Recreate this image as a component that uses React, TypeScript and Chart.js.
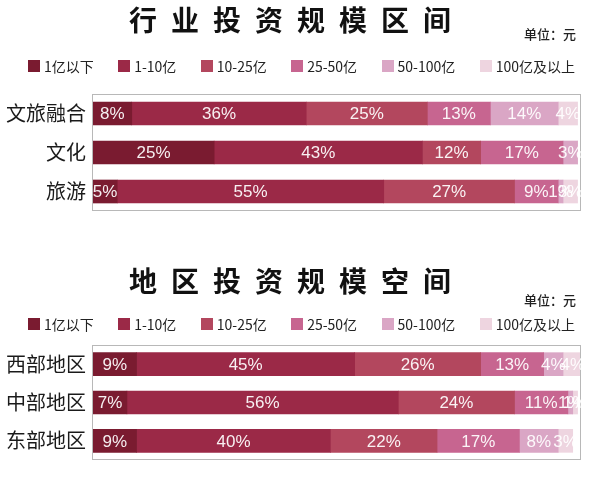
import React, { useEffect, useRef } from 'react';
import { Chart, registerables } from 'chart.js';

Chart.register(...registerables);

const seriesLabels = ['1亿以下', '1-10亿', '10-25亿', '25-50亿', '50-100亿', '100亿及以上'];
const seriesColors = ['#7a1b30', '#9b2947', '#b3475e', '#c76590', '#daa6c5', '#eed5e0'];
const unitText = '单位：元';

const industryTitle = '行业投资规模区间';
const industryCategories = ['文旅融合', '文化', '旅游'];
const industryBelow1 = [8, 25, 5];
const industry1to10 = [36, 43, 55];
const industry10to25 = [25, 12, 27];
const industry25to50 = [13, 17, 9];
const industry50to100 = [14, 3, 1];
const industryAbove100 = [4, 0, 3];

const regionTitle = '地区投资规模空间';
const regionCategories = ['西部地区', '中部地区', '东部地区'];
const regionBelow1 = [9, 7, 9];
const region1to10 = [45, 56, 40];
const region10to25 = [26, 24, 22];
const region25to50 = [13, 11, 17];
const region50to100 = [4, 1, 8];
const regionAbove100 = [4, 1, 3];

const CJK = '"Noto Sans CJK SC", "Noto Sans", sans-serif';
const NUM = '"Liberation Sans", Arial, sans-serif';

const spaced = (s: string) => s.split('').join('\u2002');

type PanelProps = {
  title: string;
  categories: string[];
  values: number[][];
  top: number;
  height: number;
  titleTop: number;
  titleBottom: number;
  padBottom: number;
  unitY: number;
  legendY: number;
};

function Panel({ title, categories, values, top, height, titleTop, titleBottom, padBottom, unitY, legendY }: PanelProps) {
  const ref = useRef<HTMLCanvasElement | null>(null);

  useEffect(() => {
    if (!ref.current) return;
    const decor = {
      id: 'decor',
      beforeDatasetsDraw(chart: any) {
        const { ctx, chartArea } = chart;
        ctx.save();
        ctx.strokeStyle = '#b8b8b8';
        ctx.lineWidth = 1;
        ctx.strokeRect(
          Math.round(chartArea.left) - 0.5,
          Math.round(chartArea.top) + 0.5,
          Math.round(chartArea.right - chartArea.left) + 1,
          Math.round(chartArea.bottom - chartArea.top) - 1
        );
        ctx.restore();
      },
      afterDatasetsDraw(chart: any) {
        const { ctx } = chart;
        ctx.save();
        ctx.font = `17px ${NUM}`;
        ctx.fillStyle = 'rgba(255,255,255,0.93)';
        ctx.textAlign = 'center';
        ctx.textBaseline = 'middle';
        chart.data.datasets.forEach((ds: any, di: number) => {
          const meta = chart.getDatasetMeta(di);
          meta.data.forEach((el: any, i: number) => {
            const v = ds.data[i];
            if (!v) return;
            const cx = (el.x + el.base) / 2;
            ctx.fillText(`${v}%`, cx, el.y + 1);
          });
        });
        ctx.restore();
      },
      afterDraw(chart: any) {
        const { ctx } = chart;
        ctx.save();
        // unit
        ctx.font = `500 13px ${CJK}`;
        ctx.fillStyle = '#222';
        ctx.textAlign = 'right';
        ctx.textBaseline = 'middle';
        ctx.fillText(unitText, chart.width - 13, unitY);
        // legend
        ctx.font = `14px ${CJK}`;
        ctx.textAlign = 'left';
        const box = 12;
        const gapText = 4;
        const items = chart.data.datasets.map((ds: any) => ({
          text: ds.label as string,
          color: ds.backgroundColor as string,
          w: box + gapText + ctx.measureText(ds.label).width,
        }));
        const sum = items.reduce((a: number, it: any) => a + it.w, 0);
        const span = 547;
        const gap = (span - sum) / (items.length - 1);
        let x = 301.5 - span / 2;
        items.forEach((it: any) => {
          ctx.fillStyle = it.color;
          ctx.fillRect(Math.round(x), Math.round(legendY - box / 2), box, box);
          ctx.fillStyle = '#222';
          ctx.fillText(it.text, x + box + gapText, legendY + 0.5);
          x += it.w + gap;
        });
        ctx.restore();
      },
    };

    const chart = new Chart(ref.current, {
      type: 'bar',
      data: {
        labels: categories,
        datasets: values.map((v, i) => ({
          label: seriesLabels[i],
          data: v,
          backgroundColor: seriesColors[i],
          borderWidth: 0,
          barThickness: 23,
        })),
      },
      options: {
        indexAxis: 'y',
        responsive: false,
        animation: false,
        layout: { padding: { left: 0, right: 9, top: 0, bottom: padBottom } },
        scales: {
          x: { stacked: true, min: 0, max: 100.5, display: false },
          y: {
            stacked: true,
            grid: { display: false, drawTicks: false },
            border: { display: false },
            ticks: { color: '#1a1a1a', font: { family: CJK, size: 20 }, padding: 7 },
            afterFit: (s: any) => {
              s.width = 93;
            },
          },
        },
        plugins: {
          title: {
            display: true,
            text: spaced(title),
            color: '#111',
            font: { family: CJK, size: 28, weight: 'bold' },
            padding: { top: titleTop, bottom: titleBottom },
          },
          legend: { display: false },
          tooltip: { enabled: false },
        },
      } as any,
      plugins: [decor],
    });
    return () => chart.destroy();
  }, []);

  return (
    <canvas
      ref={ref}
      width={589}
      height={height}
      style={{ position: 'absolute', left: 0, top, width: 589, height }}
    />
  );
}

export default function App() {
  return (
    <div style={{ position: 'fixed', left: 0, top: 0, width: 589, height: 479, background: '#fff' }}>
      <Panel
        title={industryTitle}
        categories={industryCategories}
        values={[industryBelow1, industry1to10, industry10to25, industry25to50, industry50to100, industryAbove100]}
        top={0}
        height={230}
        titleTop={4}
        titleBottom={56.4}
        padBottom={12}
        unitY={34}
        legendY={66}
      />
      <Panel
        title={regionTitle}
        categories={regionCategories}
        values={[regionBelow1, region1to10, region10to25, region25to50, region50to100, regionAbove100]}
        top={260}
        height={219}
        titleTop={5}
        titleBottom={46.4}
        padBottom={9}
        unitY={40}
        legendY={64}
      />
    </div>
  );
}
